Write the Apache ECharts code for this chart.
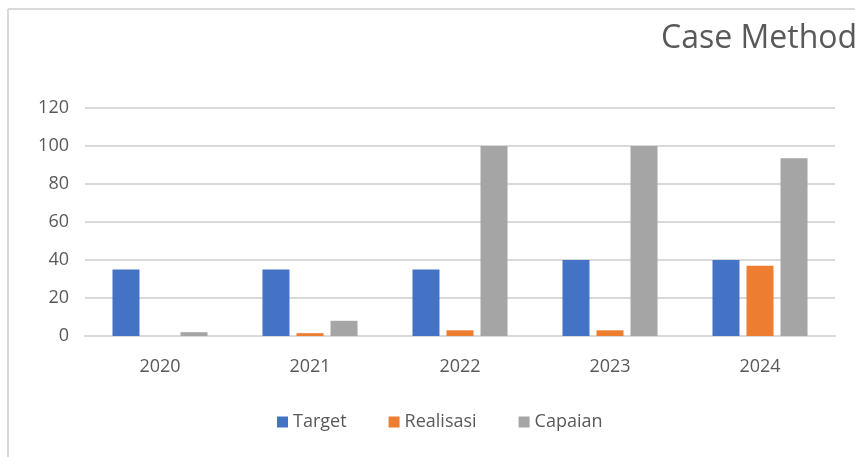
<!DOCTYPE html>
<html><head><meta charset="utf-8">
<script src="https://cdn.jsdelivr.net/npm/echarts@6/dist/echarts.min.js"></script>
<style>html,body{margin:0;padding:0;background:#fff}#c{width:855px;height:457px}</style>
</head><body><div id="c"></div>
<script>
const categories = ['2020','2021','2022','2023','2024'];
const target = [35, 35, 35, 40, 40];
const realisasi = [0, 1.5, 3, 3, 37];
const capaian = [2, 8, 100, 100, 93.5];
const yTicks = [0, 20, 40, 60, 80, 100, 120];

const chart = echarts.init(document.getElementById('c'), null, {renderer:'canvas'});
const font = "'Open Sans', 'Noto Sans', sans-serif";
chart.setOption({
  animation:false,
  backgroundColor:'#fff',
  title:{text:'Case Method', left:656, top:18, textStyle:{fontFamily:font, fontSize:32, fontWeight:'normal', color:'#595959'}},
  graphic:[
    {type:'line', shape:{x1:8, y1:9, x2:8, y2:457}, style:{stroke:'#d9d9d9', lineWidth:2}},
    {type:'line', shape:{x1:8, y1:9, x2:855, y2:9}, style:{stroke:'#d9d9d9', lineWidth:2}}
  ],
  grid:{left:85, right:20, top:108, bottom:121},
  legend:{bottom:21, left:272, itemWidth:11, itemHeight:11, itemGap:42, icon:'rect',
    textStyle:{fontFamily:font, fontSize:18, color:'#595959'},
    data:['Target','Realisasi','Capaian']},
  xAxis:{type:'category', data:categories,
    axisLine:{lineStyle:{color:'#d9d9d9', width:2}}, axisTick:{show:false},
    axisLabel:{fontFamily:font, fontSize:18, color:'#595959', margin:22}},
  yAxis:{type:'value', min:yTicks[0], max:yTicks[yTicks.length-1], interval:20,
    axisLine:{show:false}, axisTick:{show:false},
    axisLabel:{fontFamily:font, fontSize:18, color:'#595959', margin:16},
    splitLine:{lineStyle:{color:'#d9d9d9', width:2}}},
  series:[
    {name:'Target', type:'bar', data:target, barWidth:27, barGap:'26%', itemStyle:{color:'#4472C4'}},
    {name:'Realisasi', type:'bar', data:realisasi, barWidth:27, barGap:'26%', itemStyle:{color:'#ED7D31'}},
    {name:'Capaian', type:'bar', data:capaian, barWidth:27, barGap:'26%', itemStyle:{color:'#A5A5A5'}}
  ]
});
</script></body></html>
